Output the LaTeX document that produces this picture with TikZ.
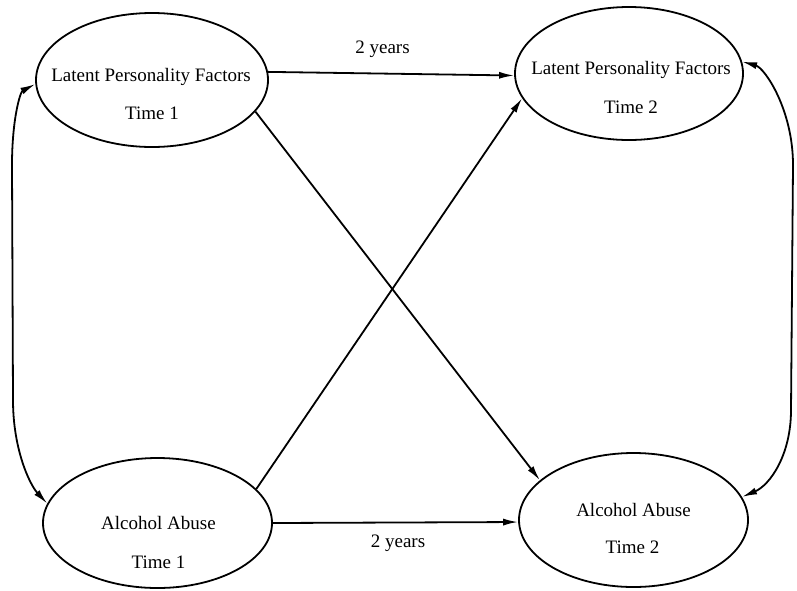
\documentclass[tikz,border=0pt]{standalone}
\usepackage{fontspec}
\setmainfont{Liberation Serif}
\usetikzlibrary{shapes.geometric,arrows.meta}
\begin{document}
\begin{tikzpicture}[x=1pt,y=-1pt,
  factor/.style={draw, ellipse, line width=1.8pt, inner sep=0pt},
  lbl/.style={anchor=base, font=\fontsize{19}{23}\selectfont, inner sep=0pt},
  arr/.style={line width=1.8pt, -{Latex[length=15pt,width=7pt]}},
  darr/.style={line width=1.8pt, {Latex[length=15pt,width=7pt]}-{Latex[length=15pt,width=7pt]}}]
\useasboundingbox (0,0) rectangle (797,590);
% ellipses
\node[factor, minimum width=232pt, minimum height=134pt] (tl) at (152,80) {};
\node[factor, minimum width=228pt, minimum height=133pt] (tr) at (629,73.5) {};
\node[factor, minimum width=229pt, minimum height=130pt] (bl) at (157.5,523) {};
\node[factor, minimum width=229pt, minimum height=134pt] (br) at (633.5,520) {};
% texts
\node[lbl] (tla) at (151,81) {Latent Personality Factors};
\node[lbl] (tlb) at (152,119) {Time 1};
\node[lbl] (tra) at (631,74) {Latent Personality Factors};
\node[lbl] (trb) at (631,113) {Time 2};
\node[lbl] (bla) at (158.5,529) {Alcohol Abuse};
\node[lbl] (blb) at (158.5,568) {Time 1};
\node[lbl] (bra) at (633.5,516) {Alcohol Abuse};
\node[lbl] (brb) at (632.5,553) {Time 2};
\node[lbl] (ya) at (382.5,53) {2 years};
\node[lbl] (yb) at (398,547) {2 years};
% straight connectors
\draw[arr] (tl.4) -- (tr.181);
\draw[arr] (bl.0) -- (br.181);
\draw[arr] (tl.343) -- (br.157);
\draw[arr] (bl.19) -- (tr.193);
% curved correlations
\coordinate (lc1) at (12,165);
\coordinate (lc2) at (13,400);
\coordinate (rc1) at (793,165);
\coordinate (rc2) at (791,410);
\draw[darr] (tl.182) .. controls (20,92) and (12,120) .. (lc1) -- (lc2)
  .. controls (13,450) and (30,485) .. (bl.170);
\draw[darr] (tr.6) .. controls (765,68) and (793,110) .. (rc1) -- (rc2)
  .. controls (791,455) and (770,485) .. (br.12);
\end{tikzpicture}
\end{document}
